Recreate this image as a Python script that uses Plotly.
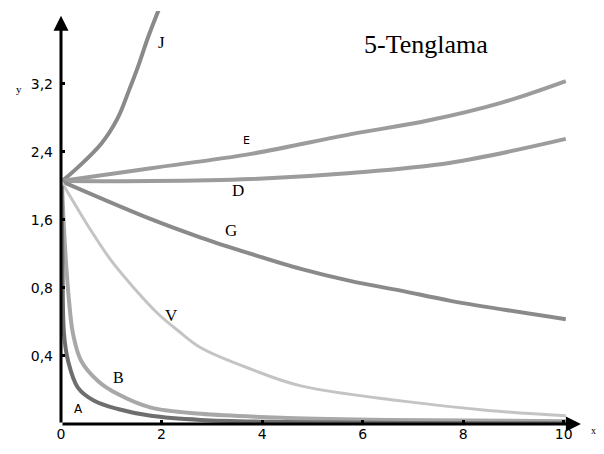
import plotly.graph_objects as go

# curve points (y in tick-step units)
j_x = [0, 0.1, 0.8, 1.13, 1.35, 1.55, 1.73, 1.95]
j_y = [3.57, 3.62, 4.12, 4.5, 4.9, 5.29, 5.68, 6.1]

e_x = [0, 1.79, 3.78, 5.77, 7.3, 8.75, 10.04]
e_y = [3.57, 3.76, 3.97, 4.26, 4.46, 4.72, 5.04]

d_x = [0, 1.79, 3.78, 5.77, 7.75, 10.04]
d_y = [3.57, 3.57, 3.6, 3.69, 3.84, 4.19]

g_x = [0, 1.79, 2.78, 3.78, 4.77, 5.77, 6.76, 7.75, 10.04]
g_y = [3.57, 3.01, 2.74, 2.5, 2.28, 2.1, 1.96, 1.81, 1.54]

v_x = [0, 0.3, 0.6, 1.0, 1.45, 1.93, 2.33, 2.78, 3.8, 4.77, 6.76, 8.5, 10.04]
v_y = [3.57, 3.2, 2.84, 2.4, 2.0, 1.62, 1.37, 1.12, 0.8, 0.56, 0.34, 0.2, 0.12]

b_x = [0.02, 0.08, 0.16, 0.24, 0.4, 0.74, 1.13, 1.79, 2.78, 4.5, 6.5, 10.04]
b_y = [3.5, 2.6, 1.81, 1.32, 0.93, 0.63, 0.44, 0.24, 0.15, 0.09, 0.06, 0.04]

a_x = [0.01, 0.03, 0.06, 0.14, 0.34, 0.66, 1.13, 1.79, 2.78, 4.5, 7.0, 10.04]
a_y = [3.5, 2.3, 1.32, 0.93, 0.53, 0.34, 0.22, 0.12, 0.06, 0.03, 0.015, 0.01]

x_ticks = [0, 2, 4, 6, 8, 10]
y_ticks = [1, 2, 3, 4, 5]
y_tick_text = ['0,4', '0,8', '1,6', '2,4', '3,2']

curves = [
    (j_x, j_y, '#8a8a8a', 4),
    (e_x, e_y, '#9c9c9c', 4),
    (d_x, d_y, '#9c9c9c', 4),
    (g_x, g_y, '#8a8a8a', 4),
    (v_x, v_y, '#c4c4c4', 3),
    (b_x, b_y, '#a8a8a8', 4),
    (a_x, a_y, '#6e6e6e', 4),
]

fig = go.Figure()
for xs, ys, col, w in curves:
    fig.add_trace(go.Scatter(x=xs, y=ys, mode='lines',
                             line=dict(color=col, width=w, shape='spline'),
                             showlegend=False, hoverinfo='skip'))

serif = 'Liberation Serif'
# curve letters
labels = [('J', 1.99, 5.6, 17, serif), ('E', 3.68, 4.16, 11, 'DejaVu Sans'),
          ('D', 3.52, 3.43, 17, serif), ('G', 3.38, 2.84, 17, serif),
          ('V', 2.19, 1.59, 17, serif), ('B', 1.15, 0.68, 16, serif),
          ('A', 0.34, 0.22, 12, 'DejaVu Sans')]
for t, lx, ly, sz, fam in labels:
    fig.add_annotation(x=lx, y=ly, text=t, showarrow=False,
                       font=dict(family=fam, size=sz, color='black'))

fig.add_annotation(x=7.26, y=5.58, text='5-Tenglama', showarrow=False,
                   font=dict(family=serif, size=26, color='black'))

# axes drawn as arrows
fig.add_annotation(x=10.34, y=0, ax=0, ay=0, axref='x', ayref='y',
                   showarrow=True, arrowhead=2, arrowsize=1, arrowwidth=3,
                   arrowcolor='black', text='')
fig.add_annotation(x=0, y=6.0, ax=0, ay=0, axref='x', ayref='y',
                   showarrow=True, arrowhead=2, arrowsize=1, arrowwidth=3,
                   arrowcolor='black', text='')

# axis letters (outside the plot area, so paper coordinates)
fig.add_annotation(xref='paper', yref='paper', x=-0.087, y=0.83, text='y',
                   showarrow=False,
                   font=dict(family=serif, size=11, color='black'))
fig.add_annotation(xref='paper', yref='paper', x=0.991, y=-0.034, text='x',
                   showarrow=False,
                   font=dict(family=serif, size=10, color='black'))

fig.update_xaxes(range=[0, 10.78], tickvals=x_ticks, ticks='inside', ticklen=4,
                 tickwidth=3, tickcolor='black', showgrid=False, zeroline=False,
                 showline=False, automargin=False,
                 tickfont=dict(family='DejaVu Sans', size=14, color='black'))
fig.update_yaxes(range=[0, 6.07], tickvals=y_ticks, ticktext=y_tick_text,
                 ticks='inside', ticklen=4, tickwidth=3, tickcolor='black',
                 showgrid=False, zeroline=False, showline=False,
                 automargin=False, ticklabelstandoff=7,
                 tickfont=dict(family='DejaVu Sans', size=14, color='black'))

fig.update_layout(width=604, height=454, plot_bgcolor='white',
                  paper_bgcolor='white',
                  margin=dict(l=53, r=9, t=3, b=38))

fig.write_html('out.html')
